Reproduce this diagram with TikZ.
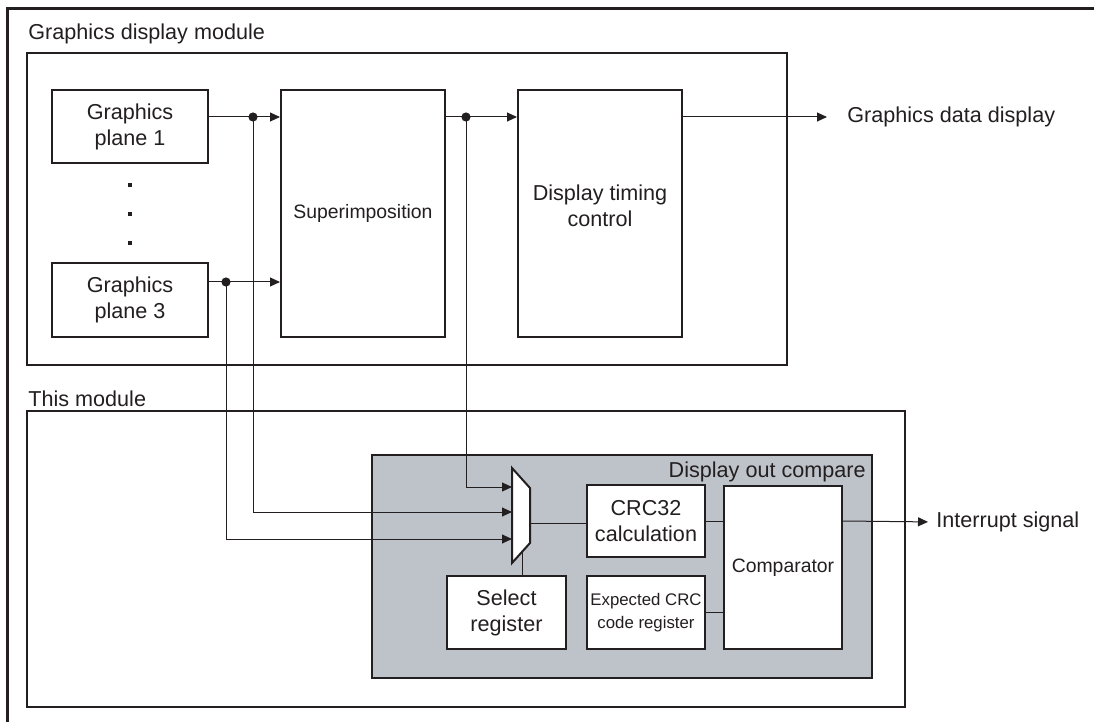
\documentclass[tikz,border=0pt]{standalone}
\usepackage{fontspec}
\setmainfont{Liberation Sans}
\usetikzlibrary{arrows.meta}
\definecolor{ink}{RGB}{35,31,32}
\definecolor{cmpgray}{RGB}{190,194,201}
\tikzset{
  >={Triangle[length=5pt,width=4.5pt]},
  block/.style={rectangle, draw=ink, line width=1pt, fill=white, align=center,
    inner sep=0pt, text=ink, font=\fontsize{10.8}{13}\selectfont},
  lbl/.style={inner sep=0pt, text=ink, font=\fontsize{10.8}{13}\selectfont},
  wire/.style={draw=ink, line width=0.5pt},
  junc/.style={circle, fill=ink, inner sep=0pt, minimum size=4.6pt},
  vdot/.style={rectangle, fill=ink, inner sep=0pt, minimum size=1.8pt},
}

\begin{document}
\begin{tikzpicture}[x=0.5pt, y=-0.5pt]
  \useasboundingbox (0,0) rectangle (1094,722);
  \draw[ink, line width=1.5pt] (7,9) rectangle (1120,760);

  \node[block, fill=none, minimum width=380pt, minimum height=156pt] (gdm) at (407,209) {};
  \node[lbl, anchor=base west] (gdmlbl) at (28,40) {Graphics display module};
  \node[block, fill=none, minimum width=439pt, minimum height=148pt] (tm) at (466,559) {};
  \node[lbl, anchor=base west] (tmlbl) at (28,406) {This module};

  \node[block, minimum width=78pt, minimum height=36.5pt] (gpone) at (130,126.5) {Graphics\\plane 1};
  \node[block, minimum width=78pt, minimum height=36.5pt] (gpthree) at (130,300) {Graphics\\plane 3};
  \foreach \y [count=\i] in {185,214,243}
    \node[vdot] (vd\i) at (130,\y) {};
  \node[block, minimum width=82pt, minimum height=123.5pt,
    font=\fontsize{9.7}{12}\selectfont] (sup) at (363,213.5) {Superimposition};
  \node[block, minimum width=82pt, minimum height=123.5pt] (dtc) at (600,213.5) {};
  \node[lbl, align=center] (dtctext) at (600,206) {Display timing\\control};
  \node[lbl, anchor=west] (gddlbl) at (847,117) {Graphics data display};

  \node[block, fill=cmpgray, minimum width=250pt, minimum height=111.5pt] (doc) at (622,566.5) {};
  \node[lbl, anchor=base east] (doclbl) at (866,477) {Display out compare};
  \node[block, minimum width=59pt, minimum height=36pt] (crc) at (646,521) {CRC32\\calculation};
  \node[block, minimum width=59.5pt, minimum height=36.5pt] (sel) at (506.5,612.5) {Select\\register};
  \node[block, minimum width=59pt, minimum height=36.5pt,
    font=\fontsize{8.4}{11.5}\selectfont] (exp) at (646,612.5) {Expected CRC\\code register};
  \node[block, minimum width=59pt, minimum height=81.5pt,
    font=\fontsize{9.7}{12}\selectfont] (cmp) at (783,567.5) {Comparator};
  \node[lbl, anchor=west] (intlbl) at (936,522) {Interrupt signal};

  \draw[ink, line width=1pt, fill=white] (512,468) -- (530,488) -- (530,543) -- (512,563) -- cycle;
  \coordinate (muxa) at (512,487);
  \coordinate (muxb) at (512,512);
  \coordinate (muxc) at (512,539);
  \coordinate (muxo) at (530,523);
  \coordinate (muxs) at (522,552);

  \coordinate (jone) at (253,117);
  \coordinate (jtwo) at (226,282);
  \coordinate (jthree) at (466,117);

  \draw[wire, ->] (gpone.east |- jone) -- (sup.west |- jone);
  \draw[wire, ->] (gpthree.east |- jtwo) -- (sup.west |- jtwo);
  \draw[wire, ->] (sup.east |- jthree) -- (dtc.west |- jthree);
  \draw[wire, ->, shorten >=10pt] (dtc.east |- jthree) -- (gddlbl.west);
  \draw[wire, ->] (jthree) |- (muxa);
  \draw[wire, ->] (jone) |- (muxb);
  \draw[wire, ->] (jtwo) |- (muxc);
  \draw[wire] (muxo) -- (crc.west |- muxo);
  \draw[wire] (muxs) -- (muxs |- sel.north);
  \draw[wire] (crc.east) -- (crc.east -| cmp.west);
  \draw[wire] (exp.east) -- (exp.east -| cmp.west);
  \draw[wire, ->, shorten >=4pt] (cmp.east |- crc.east) -- (intlbl.west);
  \foreach \j in {jone,jtwo,jthree}
    \node[junc] at (\j) {};
\end{tikzpicture}
\end{document}
